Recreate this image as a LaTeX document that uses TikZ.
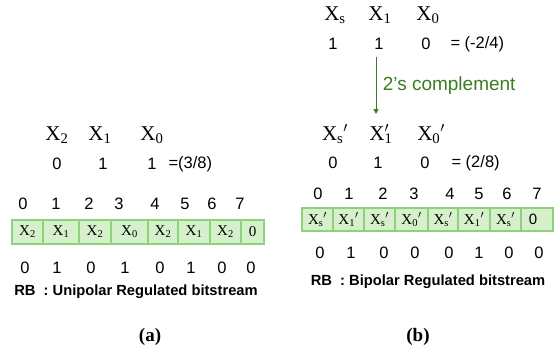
\documentclass[tikz,border=0pt]{standalone}
\usepackage{fontspec}
\setmainfont{Liberation Serif}
\setsansfont{Liberation Sans}
\usetikzlibrary{arrows.meta}
\definecolor{cellfill}{HTML}{D6F0CC}
\definecolor{celldraw}{HTML}{8DD27A}
\definecolor{darkgreen}{HTML}{3B7D23}
\newcommand{\Xs}[1]{X\textsubscript{#1}}
\newcommand{\Xp}[1]{X\textsubscript{#1}$'$}
\newcommand{\Xt}[1]{X\rlap{\textsuperscript{$\prime$}}\textsubscript{#1}}
\begin{document}
\begin{tikzpicture}[x=1pt,y=-1pt,
  var/.style={font=\fontsize{21}{23}\selectfont},
  num/.style={font=\sffamily\fontsize{16.5}{18}\selectfont},
  cell/.style={draw=celldraw,line width=1.2pt,fill=cellfill,minimum height=#1,inner sep=0pt,
    font=\fontsize{15}{17}\selectfont},
  cell/.default=24pt,
  caption/.style={font=\sffamily\bfseries\fontsize{14.7}{17}\selectfont},
  sub/.style={font=\bfseries\fontsize{19}{21}\selectfont}]
\useasboundingbox (0,0) rectangle (559,354);

% ---------- (a) unipolar ----------
\node[var] (ax2) at (57,135) {\Xs{2}};
\node[var] (ax1) at (100,135) {\Xs{1}};
\node[var] (ax0) at (152,135) {\Xs{0}};
\node[num] (av2) at (57,164) {0};
\node[num] (av1) at (103,164) {1};
\node[num] (av0) at (152,164) {1};
\node[num,anchor=west] (aval) at (165,164) {=(3/8)};

\foreach \i/\x in {0/23,1/56,2/89,3/119,4/155,5/185,6/212,7/240}
  \node[num] (ai\i) at (\x,204) {\i};

\foreach \i/\l/\r/\t in {0/12/43/\Xs{2},1/43/79/\Xs{1},2/79/111/\Xs{2},3/111/148/\Xs{0},
    4/148/178/\Xs{2},5/178/210/\Xs{1},6/210/241/\Xs{2},7/241/264/0}
  \node[cell,minimum width={(\r-\l)*1pt}] (ac\i) at ({(\l+\r)/2},232) {\t};

\foreach \i/\x/\v in {0/25/0,1/57/1,2/91/0,3/125/1,4/160/0,5/191/1,6/222/0,7/251/0}
  \node[num] (ab\i) at (\x,268) {\v};

\node[caption] (acap) at (136,292) {RB\ \ : Unipolar Regulated bitstream};
\node[sub] (alab) at (150,337) {(a)};

% ---------- (b) bipolar ----------
\node[var] (bxs) at (335,15) {\Xs{s}};
\node[var] (bx1) at (380,15) {\Xs{1}};
\node[var] (bx0) at (428,15) {\Xs{0}};
\node[num] (bvs) at (333,44) {1};
\node[num] (bv1) at (379,44) {1};
\node[num] (bv0) at (426,44) {0};
\node[num,anchor=west] (bval) at (447,44) {= (-2/4)};

\coordinate (atop) at (376,57);
\coordinate (abot) at (376,114);
\draw[darkgreen,line width=1pt,-{Triangle[length=5pt,width=5pt]}] (atop) -- (abot)
  node[midway,right=3pt,text=darkgreen,font=\sffamily\fontsize{19}{21}\selectfont] (bcomp) {2’s complement};

\node[var] (bps) at (335,134) {\Xp{s}};
\node[var] (bp1) at (381,134) {\Xt{1}};
\node[var] (bp0) at (431,134) {\Xp{0}};
\node[num] (bws) at (333,163) {0};
\node[num] (bw1) at (378,163) {1};
\node[num] (bw0) at (425,163) {0};
\node[num,anchor=west] (bwal) at (448,163) {= (2/8)};

\foreach \i/\x in {0/318,1/349,2/383,3/414,4/450,5/479,6/507,7/537}
  \node[num] (bi\i) at (\x,194) {\i};

\foreach \i/\l/\r/\t in {0/302/333/\Xp{s},1/333/364/\Xp{1},2/364/395/\Xp{s},3/395/428/\Xp{0},
    4/428/458/\Xp{s},5/458/490/\Xp{1},6/490/521/\Xp{s},7/521/553/{}}
  \node[cell=23pt,minimum width={(\r-\l)*1pt}] (bc\i) at ({(\l+\r)/2},219.5) {\t};
\node[font=\sffamily\fontsize{15}{17}\selectfont] (bc7t) at (533,219.5) {0};

\foreach \i/\x/\v in {0/320/0,1/351/1,2/384/0,3/415/0,4/449/0,5/479/1,6/509/0,7/539/0}
  \node[num] (bb\i) at (\x,253) {\v};

\node[caption] (bcap) at (428,282) {RB\ \ : Bipolar Regulated bitstream};
\node[sub] (blab) at (418,337) {(b)};
\end{tikzpicture}
\end{document}
